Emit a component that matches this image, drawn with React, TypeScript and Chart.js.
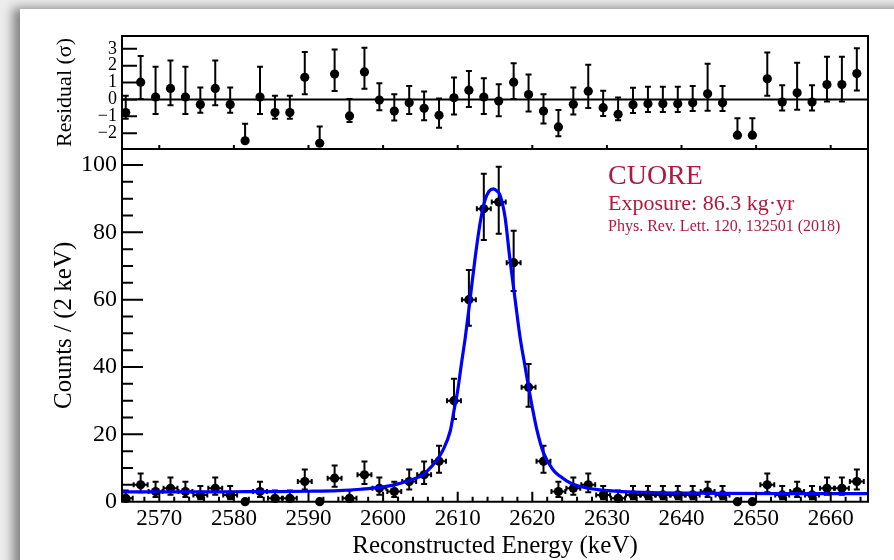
import { useEffect, useRef } from 'react';
import { Chart, registerables } from 'chart.js';

Chart.register(...registerables);

// ---- data ----
const energies = [
  2565.5, 2567.5, 2569.5, 2571.5, 2573.5, 2575.5, 2577.5, 2579.5, 2581.5, 2583.5,
  2585.5, 2587.5, 2589.5, 2591.5, 2593.5, 2595.5, 2597.5, 2599.5, 2601.5, 2603.5,
  2605.5, 2607.5, 2609.5, 2611.5, 2613.5, 2615.5, 2617.5, 2619.5, 2621.5, 2623.5,
  2625.5, 2627.5, 2629.5, 2631.5, 2633.5, 2635.5, 2637.5, 2639.5, 2641.5, 2643.5,
  2645.5, 2647.5, 2649.5, 2651.5, 2653.5, 2655.5, 2657.5, 2659.5, 2661.5, 2663.5,
];
const binHalfWidth = 1;
const counts = [
  1, 5, 3, 4, 3, 2, 4, 2, 0, 3,
  1, 1, 6, 0, 7, 1, 8, 4, 3, 6,
  8, 12, 30, 60, 87, 89, 71, 34, 12, 3,
  4, 5, 2, 1, 2, 2, 2, 2, 2, 3,
  2, 0, 0, 5, 2, 3, 2, 4, 4, 6,
];
const countErrHigh = [
  2.30, 3.38, 2.92, 3.16, 2.92, 2.64, 3.16, 2.64, 0, 2.92,
  2.30, 2.30, 3.58, 0, 3.77, 2.30, 3.95, 3.16, 2.92, 3.58,
  3.95, 4.61, 6.55, 8.83, 10.37, 10.48, 9.47, 6.86, 4.61, 2.92,
  3.16, 3.38, 2.64, 2.30, 2.64, 2.64, 2.64, 2.64, 2.64, 2.92,
  2.64, 0, 0, 3.38, 2.64, 2.92, 2.64, 3.16, 3.16, 3.58,
];
const countErrLow = [
  0.83, 2.16, 1.63, 1.91, 1.63, 1.29, 1.91, 1.29, 0, 1.63,
  0.83, 0.83, 2.38, 0, 2.58, 0.83, 2.77, 1.91, 1.63, 2.38,
  2.77, 3.41, 5.45, 7.73, 9.31, 9.42, 8.41, 5.80, 3.41, 1.63,
  1.91, 2.16, 1.29, 0.83, 1.29, 1.29, 1.29, 1.29, 1.29, 1.63,
  1.29, 0, 0, 2.16, 1.29, 1.63, 1.29, 1.91, 1.91, 2.38,
];
const residuals = [
  -0.78, 1.02, 0.14, 0.65, 0.14, -0.30, 0.65, -0.30, -2.45, 0.14,
  -0.78, -0.78, 1.31, -2.60, 1.50, -0.98, 1.63, -0.04, -0.69, -0.20,
  -0.53, -0.94, 0.10, 0.55, 0.14, -0.10, 1.02, 0.29, -0.69, -1.63,
  -0.29, 0.49, -0.49, -0.88, -0.31, -0.25, -0.25, -0.25, -0.20, 0.33,
  -0.20, -2.12, -2.12, 1.22, -0.16, 0.39, -0.16, 0.88, 0.88, 1.53,
];
const residErrHigh = [
  1, 1.56, 1.79, 1.65, 1.79, 1, 1.65, 1, 1, 1.79,
  1, 1, 1.50, 1, 1.46, 1, 1.43, 1, 1, 1,
  1, 1, 1.20, 1.14, 1.12, 1, 1.13, 1.19, 1, 1,
  1, 1.56, 1, 1, 1, 1, 1, 1, 1, 1.79,
  1, 1, 1, 1.56, 1, 1.79, 1, 1.65, 1.65, 1.50,
];
const residErrLow = [
  0.36, 1, 1, 1, 1, 0.49, 1, 0.49, 0, 1,
  0.36, 0.36, 1, 0, 1, 0.36, 1, 0.60, 0.56, 0.66,
  0.70, 0.74, 1, 1, 1, 0.90, 1, 1, 0.74, 0.56,
  0.60, 1, 0.49, 0.36, 0.49, 0.49, 0.49, 0.49, 0.49, 1,
  0.49, 0, 0, 1, 0.49, 1, 0.49, 1, 1, 1,
];
const fitEnergy = [
  2565, 2570, 2575, 2580, 2585, 2590, 2594, 2597, 2600, 2602,
  2604, 2605, 2606, 2607, 2608, 2609, 2609.5, 2610, 2610.5, 2611,
  2611.65, 2612.3, 2613, 2613.66, 2614.2, 2614.78, 2615.3, 2615.67, 2616.34, 2617,
  2617.7, 2618.35, 2619, 2619.5, 2620, 2620.6, 2621.5, 2622.8, 2623.7, 2624.6,
  2625.5, 2627, 2629, 2632, 2636, 2645, 2655, 2665,
];
const fitCounts = [
  2.9, 2.9, 2.9, 2.95, 3.0, 3.1, 3.3, 3.7, 4.4, 5.3,
  6.7, 7.5, 9.3, 11.8, 15.2, 21, 27, 33, 41, 48.5,
  59.9, 71.8, 82.7, 89.6, 92.2, 92.9, 92.2, 91.1, 84.6, 72,
  60, 49, 40.5, 34, 28, 21.5, 14.5, 9.4, 7.6, 6.2,
  5.2, 4.2, 3.5, 3.0, 2.7, 2.5, 2.4, 2.4,
];
const xTickValues = [2570, 2580, 2590, 2600, 2610, 2620, 2630, 2640, 2650, 2660];
const countTickValues = [0, 20, 40, 60, 80, 100];
const residTickValues = [-2, -1, 0, 1, 2, 3];

const FONT = '"Liberation Serif", "Times New Roman", serif';
const TEXT_RED = '#ad1a40';

const panelPlugin = {
  id: 'panelPlugin',
  beforeDatasetsDraw(chart: any) {
    const { ctx, chartArea } = chart;
    const { x, y, yr } = chart.scales;
    ctx.save();
    ctx.strokeStyle = '#000';
    ctx.lineWidth = 2;
    // residual zero line
    const y0 = yr.getPixelForValue(0);
    ctx.beginPath();
    ctx.moveTo(chartArea.left, y0);
    ctx.lineTo(chartArea.right, y0);
    ctx.stroke();

    const capY = 3;
    const capX = 2.5;
    // count error bars
    energies.forEach((e, i) => {
      const n = counts[i];
      if (n === 0) return;
      const px = x.getPixelForValue(e);
      const py = y.getPixelForValue(n);
      const xl = x.getPixelForValue(e - binHalfWidth) + 0.5;
      const xr = x.getPixelForValue(e + binHalfWidth) - 0.5;
      const yt = y.getPixelForValue(n + countErrHigh[i]);
      const yb = y.getPixelForValue(n - countErrLow[i]);
      ctx.beginPath();
      ctx.moveTo(Math.max(xl, chartArea.left), py);
      ctx.lineTo(Math.min(xr, chartArea.right), py);
      if (xl > chartArea.left) { ctx.moveTo(xl, py - capX); ctx.lineTo(xl, py + capX); }
      if (xr < chartArea.right) { ctx.moveTo(xr, py - capX); ctx.lineTo(xr, py + capX); }
      ctx.moveTo(px, yt);
      ctx.lineTo(px, yb);
      ctx.moveTo(px - capY, yt); ctx.lineTo(px + capY, yt);
      ctx.moveTo(px - capY, yb); ctx.lineTo(px + capY, yb);
      ctx.stroke();
    });
    // residual error bars
    energies.forEach((e, i) => {
      const px = x.getPixelForValue(e);
      const r = residuals[i];
      const yt = yr.getPixelForValue(r + residErrHigh[i]);
      const yb = yr.getPixelForValue(r - residErrLow[i]);
      ctx.beginPath();
      ctx.moveTo(px, yt);
      ctx.lineTo(px, yb);
      if (residErrHigh[i] > 0) { ctx.moveTo(px - capY, yt); ctx.lineTo(px + capY, yt); }
      if (residErrLow[i] > 0) { ctx.moveTo(px - capY, yb); ctx.lineTo(px + capY, yb); }
      ctx.stroke();
    });
    ctx.restore();
  },
  afterDraw(chart: any) {
    const { ctx, chartArea } = chart;
    const { x, y, yr } = chart.scales;
    const L = chartArea.left;
    const R = chartArea.right;
    ctx.save();
    ctx.strokeStyle = '#000';
    ctx.lineWidth = 2;
    ctx.beginPath();
    // frames
    ctx.rect(L, yr.top, R - L, yr.bottom - yr.top);
    ctx.rect(L, y.top, R - L, y.bottom - y.top);
    // main panel left ticks
    for (let v = 0; v <= y.max; v += 5) {
      const py = y.getPixelForValue(v);
      const len = v % 20 === 0 ? 21 : 11;
      ctx.moveTo(L, py);
      ctx.lineTo(L + len, py);
    }
    // residual left ticks
    residTickValues.forEach((v) => {
      const py = yr.getPixelForValue(v);
      ctx.moveTo(L, py);
      ctx.lineTo(L + 15, py);
    });
    // bottom ticks main panel
    const step = (xTickValues[1] - xTickValues[0]) / 5;
    for (let v = xTickValues[0] - 2 * step; v <= x.max; v += step) {
      const px = x.getPixelForValue(v);
      const major = xTickValues.some((t) => Math.abs(t - v) < 1e-6);
      ctx.moveTo(px, y.bottom);
      ctx.lineTo(px, y.bottom - (major ? 10 : 5));
    }
    // bottom ticks residual panel
    xTickValues.forEach((v) => {
      const px = x.getPixelForValue(v);
      ctx.moveTo(px, yr.bottom);
      ctx.lineTo(px, yr.bottom - 4);
    });
    ctx.stroke();

    // annotation text
    ctx.fillStyle = TEXT_RED;
    ctx.textAlign = 'left';
    ctx.textBaseline = 'alphabetic';
    const tx = L + 486;
    ctx.font = `28px ${FONT}`;
    ctx.fillText('CUORE', tx, y.top + 35);
    ctx.font = `22px ${FONT}`;
    ctx.fillText('Exposure: 86.3 kg\u00b7yr', tx, y.top + 61);
    ctx.font = `16px ${FONT}`;
    ctx.fillText('Phys. Rev. Lett. 120, 132501 (2018)', tx, y.top + 82);
    ctx.restore();
  },
};

export default function App() {
  const ref = useRef<HTMLCanvasElement | null>(null);
  useEffect(() => {
    if (!ref.current) return;
    const countPts = energies.map((e, i) => ({ x: e, y: counts[i] }));
    const residPts = energies.map((e, i) => ({ x: e, y: residuals[i] }));
    const fitPts = fitEnergy.map((e, i) => ({ x: e, y: fitCounts[i] }));
    const chart = new Chart(ref.current, {
      type: 'scatter',
      data: {
        datasets: [
          {
            label: 'fit',
            data: fitPts,
            showLine: true,
            borderColor: '#0000ff',
            borderWidth: 3.2,
            pointRadius: 0,
            cubicInterpolationMode: 'monotone',
            yAxisID: 'y',
          } as any,
          {
            label: 'counts',
            data: countPts,
            pointRadius: 4.6,
            pointBackgroundColor: '#000',
            pointBorderWidth: 0,
            yAxisID: 'y',
            clip: false,
          } as any,
          {
            label: 'residual',
            data: residPts,
            pointRadius: 4.6,
            pointBackgroundColor: '#000',
            pointBorderWidth: 0,
            yAxisID: 'yr',
            clip: false,
          } as any,
        ],
      },
      options: {
        responsive: false,
        animation: false,
        events: [],
        layout: { padding: { top: 36, right: 26, bottom: 0, left: 0 } },
        plugins: { legend: { display: false }, tooltip: { enabled: false } },
        scales: {
          x: {
            type: 'linear',
            position: 'bottom',
            min: 2565,
            max: 2665,
            grid: { display: false, drawTicks: false, tickLength: 0 },
            border: { display: false },
            afterBuildTicks: (s: any) => { s.ticks = xTickValues.map((v) => ({ value: v })); },
            afterFit: (s: any) => { s.height = 58.3; },
            ticks: {
              autoSkip: false,
              maxRotation: 0,
              padding: 3,
              color: '#000',
              font: { family: FONT, size: 23 },
              callback: (v: any) => String(v),
            },
            title: {
              display: true,
              text: 'Reconstructed Energy (keV)',
              color: '#000',
              font: { family: FONT, size: 25, lineHeight: 1 },
              padding: { top: 0, bottom: 1.5 },
            },
          },
          y: {
            type: 'linear',
            position: 'left',
            stack: 'panels',
            stackWeight: 352.7,
            min: 0,
            max: 104.75,
            grid: { display: false, drawTicks: false, tickLength: 0 },
            border: { display: false },
            afterBuildTicks: (s: any) => { s.ticks = countTickValues.map((v) => ({ value: v })); },
            afterFit: (s: any) => { s.width = 122; },
            ticks: {
              autoSkip: false,
              padding: 5,
              color: '#000',
              font: { family: FONT, size: 24 },
              callback: (v: any) => String(v),
            },
            title: {
              display: true,
              text: 'Counts / (2 keV)',
              color: '#000',
              font: { family: FONT, size: 25, lineHeight: 1 },
              padding: { top: 52, bottom: 0 },
            },
          },
          yr: {
            type: 'linear',
            position: 'left',
            stack: 'panels',
            stackWeight: 113,
            min: -2.94,
            max: 3.76,
            grid: { display: false, drawTicks: false, tickLength: 0 },
            border: { display: false },
            afterBuildTicks: (s: any) => { s.ticks = residTickValues.map((v) => ({ value: v })); },
            afterFit: (s: any) => { s.width = 122; },
            ticks: {
              autoSkip: false,
              padding: 5,
              color: '#000',
              font: { family: FONT, size: 18, lineHeight: 1 },
              callback: (v: any) => (v < 0 ? '\u2212' + Math.abs(v) : String(v)),
            },
            title: {
              display: true,
              text: 'Residual (\u03c3)',
              color: '#000',
              font: { family: FONT, size: 22, lineHeight: 1 },
              padding: { top: 54, bottom: 0 },
            },
          },
        },
      } as any,
      plugins: [panelPlugin],
    });
    return () => chart.destroy();
  }, []);

  return (
    <div style={{ position: 'fixed', left: 0, top: 0, width: 894, height: 560, overflow: 'hidden', background: '#ececec' }}>
      <div
        style={{
          position: 'absolute',
          left: 20,
          top: 9,
          width: 900,
          height: 600,
          background: '#fff',
          boxShadow: '-7px -1px 10px rgba(0,0,0,0.45)',
        }}
      />
      <canvas ref={ref} width={894} height={560} style={{ position: 'absolute', left: 0, top: 0, width: 894, height: 560 }} />
    </div>
  );
}
